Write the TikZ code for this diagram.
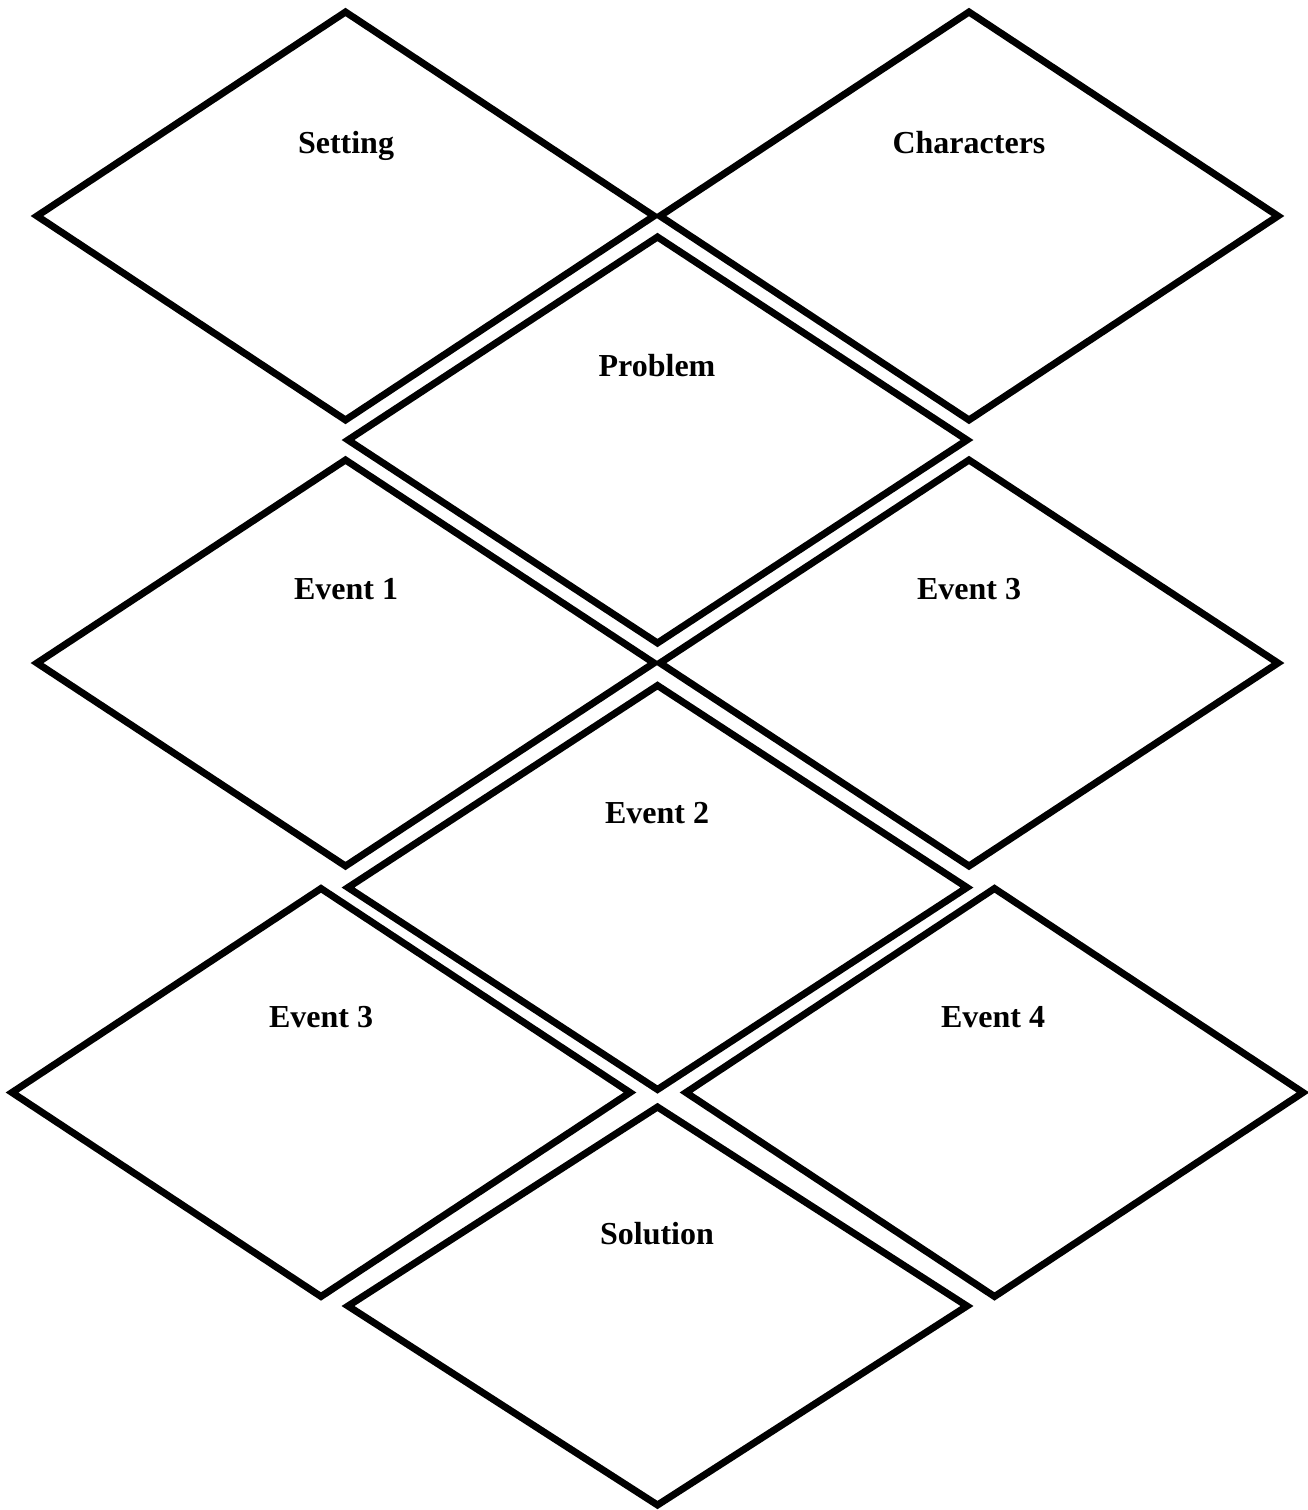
\documentclass[tikz,border=0pt]{standalone}
\usepackage{fontspec}
\setmainfont{Liberation Serif}
\begin{document}
\begin{tikzpicture}[x=1pt,y=-1pt,
  dia/.style={draw=black,line width=7pt,line join=miter},
  lbl/.style={anchor=base,inner sep=0pt,font=\fontsize{32}{38}\selectfont\bfseries}]
\useasboundingbox (0,0) rectangle (1307,1510);
\newcommand{\mydia}[4]{\draw[dia] ({#1-#3},#2) -- (#1,{#2-#4}) -- ({#1+#3},#2) -- (#1,{#2+#4}) -- cycle;}
% diamonds
\mydia{345.5}{216}{308.5}{204}
\mydia{969}{216}{309}{204}
\mydia{657.5}{440}{309.5}{203}
\mydia{345.5}{663}{308.5}{203}
\mydia{969}{663}{309}{203}
\mydia{657.5}{887.5}{309.5}{202}
\mydia{321}{1092.5}{309}{204}
\mydia{994.5}{1092.5}{308.5}{204}
\mydia{657.5}{1306}{309.5}{199}
% labels
\node[lbl] (setting) at (346,153) {Setting};
\node[lbl] (characters) at (969,153) {Characters};
\node[lbl] (problem) at (657,376) {Problem};
\node[lbl] (event1) at (346,599) {Event 1};
\node[lbl] (event3r) at (969,599) {Event 3};
\node[lbl] (event2) at (657,823) {Event 2};
\node[lbl] (event3l) at (321,1027) {Event 3};
\node[lbl] (event4) at (993,1027) {Event 4};
\node[lbl] (solution) at (657,1244) {Solution};
\end{tikzpicture}
\end{document}
